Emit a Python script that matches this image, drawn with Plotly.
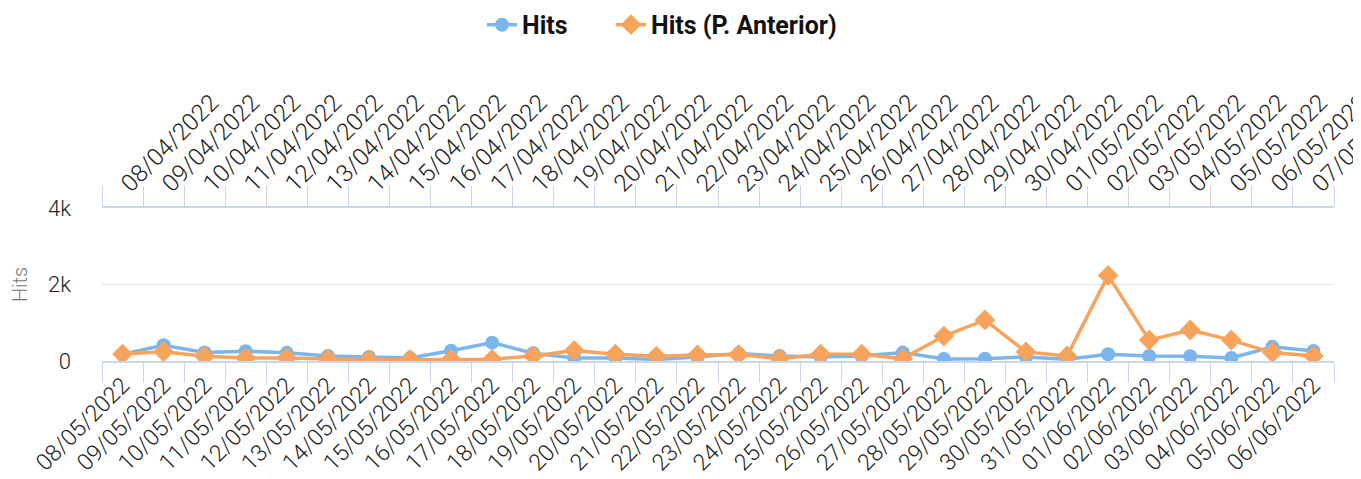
import plotly.graph_objects as go

dates_current = ["08/05/2022","09/05/2022","10/05/2022","11/05/2022","12/05/2022","13/05/2022",
                 "14/05/2022","15/05/2022","16/05/2022","17/05/2022","18/05/2022","19/05/2022",
                 "20/05/2022","21/05/2022","22/05/2022","23/05/2022","24/05/2022","25/05/2022",
                 "26/05/2022","27/05/2022","28/05/2022","29/05/2022","30/05/2022","31/05/2022",
                 "01/06/2022","02/06/2022","03/06/2022","04/06/2022","05/06/2022","06/06/2022"]
dates_previous = ["08/04/2022","09/04/2022","10/04/2022","11/04/2022","12/04/2022","13/04/2022",
                  "14/04/2022","15/04/2022","16/04/2022","17/04/2022","18/04/2022","19/04/2022",
                  "20/04/2022","21/04/2022","22/04/2022","23/04/2022","24/04/2022","25/04/2022",
                  "26/04/2022","27/04/2022","28/04/2022","29/04/2022","30/04/2022","01/05/2022",
                  "02/05/2022","03/05/2022","04/05/2022","05/05/2022","06/05/2022","07/05/2022"]
hits_current = [180, 410, 222, 258, 213, 133, 107, 80, 267, 480, 205, 80, 80, 40, 106,
                194, 132, 106, 132, 220, 53, 62, 106, 44, 176, 132, 123, 80, 370, 264]
hits_previous = [180, 240, 124, 80, 80, 45, 30, 35, 45, 45, 133, 275, 178, 124, 160,
                 167, 62, 176, 176, 62, 652, 1075, 238, 132, 2238, 546, 810, 546, 220, 132]

BLUE = "#7cb5ec"
ORANGE = "#f7a35c"
AXIS = "#ccd6eb"
FONT = "Roboto"

fig = go.Figure()
fig.add_trace(go.Scatter(
    x=dates_current, y=hits_current, name="Hits", mode="lines+markers",
    line=dict(color=BLUE, width=3.5), marker=dict(symbol="circle", size=14, color=BLUE),
    xaxis="x", yaxis="y", legend="legend"))
fig.add_trace(go.Scatter(
    x=dates_previous, y=hits_previous, name="Hits (P. Anterior)", mode="lines+markers",
    line=dict(color=ORANGE, width=3.5), marker=dict(symbol="diamond", size=16, color=ORANGE),
    xaxis="x2", yaxis="y", legend="legend2"))

common_x = dict(type="category", range=[-0.5, 29.5], tickson="boundaries",
                ticks="outside", ticklen=20, tickcolor=AXIS, tickwidth=1,
                showline=True, linecolor=AXIS, linewidth=1.5, showgrid=False,
                tickangle=-45, automargin=False, fixedrange=True)

legend_common = dict(orientation="h", xref="container", yref="container",
                     xanchor="left", y=0.964, yanchor="middle",
                     font=dict(family=FONT, size=25, color="#111", weight="bold"))

# page body adds an 8px offset; the figure is sized to compensate
fig.update_layout(
    width=1353, height=471,
    margin=dict(l=94, r=27, t=200, b=118),
    paper_bgcolor="white", plot_bgcolor="white",
    font=dict(family=FONT),
    xaxis=dict(**common_x, side="bottom", categoryarray=dates_current,
               categoryorder="array", anchor="y",
               tickfont=dict(family=FONT, size=23, color="#222", weight=300)),
    xaxis2=dict(**common_x, side="top", overlaying="x", categoryarray=dates_previous,
                categoryorder="array", anchor="y",
                tickfont=dict(family=FONT, size=24, color="#222", weight=300)),
    yaxis=dict(range=[0, 4000], tickvals=[0, 2000, 4000], ticktext=["0", "2k", "4k"],
               showgrid=True, gridcolor="#e6e6e6", gridwidth=1, zeroline=False,
               showline=False, ticks="", ticklabelstandoff=30, automargin=False,
               tickfont=dict(family=FONT, size=22, color="#222", weight=300),
               title=dict(text="Hits", font=dict(family=FONT, size=20, color="#777", weight=300),
                          standoff=20)),
    showlegend=True,
    legend=dict(**legend_common, x=474 / 1353),
    legend2=dict(**legend_common, x=603 / 1353),
)

fig.write_html("out.html")
